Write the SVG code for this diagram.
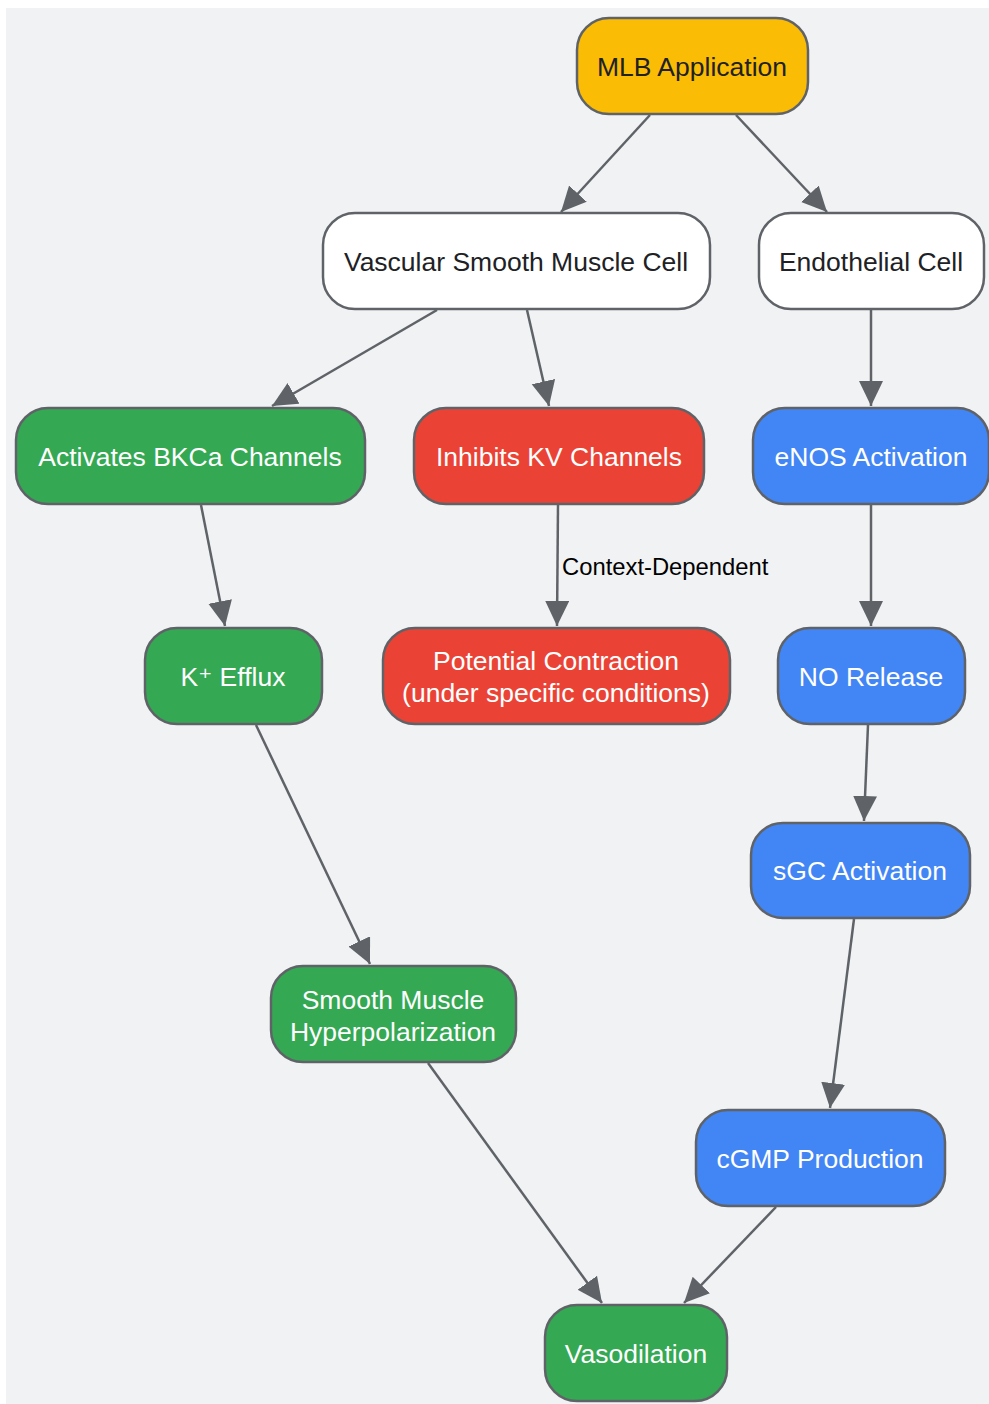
<svg xmlns="http://www.w3.org/2000/svg" width="989" height="1404" viewBox="0 0 989 1404">
<style>
.n rect{stroke:#5f6368;stroke-width:2.5}
.n text{font-family:"Liberation Sans",Arial,sans-serif;font-size:26.5px;text-anchor:middle;dominant-baseline:central}
.w rect{fill:#ffffff}.w text{fill:#202124}
.y rect{fill:#fbbc05}.y text{fill:#202124}
.g rect{fill:#34a853}.g text{fill:#ffffff}
.r rect{fill:#ea4335}.r text{fill:#ffffff}
.b rect{fill:#4285f4}.b text{fill:#ffffff}
#edges line{stroke:#5f6368;stroke-width:2.5;marker-end:url(#ah)}
.lbl{font-family:"Liberation Sans",Arial,sans-serif;font-size:23.8px;fill:#000000}
.sup{font-family:"DejaVu Sans",sans-serif}
</style>
<defs>
<marker id="ah" markerUnits="userSpaceOnUse" markerWidth="28" markerHeight="26" refX="25" refY="12" orient="auto">
<path d="M0,0 L25,12 L0,24 z" fill="#5f6368"/>
</marker>
</defs>
<rect x="6" y="8" width="983" height="1396" fill="#f1f2f4"/>
<g id="edges">
<line x1="650" y1="115" x2="561" y2="212"/>
<line x1="736" y1="115" x2="827" y2="212"/>
<line x1="437" y1="310" x2="272" y2="406"/>
<line x1="527" y1="310" x2="549" y2="406"/>
<line x1="871" y1="310" x2="871" y2="406"/>
<line x1="201" y1="505" x2="225" y2="626"/>
<line x1="558" y1="505" x2="557" y2="626"/>
<line x1="871" y1="505" x2="871" y2="626"/>
<line x1="256" y1="725" x2="370" y2="964"/>
<line x1="868" y1="725" x2="864" y2="821"/>
<line x1="428" y1="1063" x2="602" y2="1303"/>
<line x1="854" y1="919" x2="830" y2="1108"/>
<line x1="776" y1="1207" x2="684" y2="1303"/>
<text class="lbl" x="562" y="575">Context-Dependent</text>
</g>
<g id="mlb" class="n y"><rect x="577" y="18" width="231" height="96" rx="32"/><text x="692" y="67">MLB Application</text></g>
<g id="vsmc" class="n w"><rect x="323" y="213" width="387" height="96" rx="32"/><text x="516" y="262">Vascular Smooth Muscle Cell</text></g>
<g id="endo" class="n w"><rect x="759" y="213" width="225" height="96" rx="32"/><text x="871" y="262">Endothelial Cell</text></g>
<g id="bkca" class="n g"><rect x="16" y="408" width="349" height="96" rx="32"/><text x="190" y="457">Activates BKCa Channels</text></g>
<g id="kv" class="n r"><rect x="414" y="408" width="290" height="96" rx="32"/><text x="559" y="457">Inhibits KV Channels</text></g>
<g id="enos" class="n b"><rect x="753" y="408" width="236" height="96" rx="32"/><text x="871" y="457">eNOS Activation</text></g>
<g id="kefflux" class="n g"><rect x="145" y="628" width="177" height="96" rx="32"/><text x="233" y="677">K<tspan class="sup">⁺</tspan> Efflux</text></g>
<g id="contraction" class="n r"><rect x="383" y="628" width="347" height="96" rx="32"/><text x="556" y="661">Potential Contraction</text><text x="556" y="693">(under specific conditions)</text></g>
<g id="norelease" class="n b"><rect x="778" y="628" width="187" height="96" rx="32"/><text x="871" y="677">NO Release</text></g>
<g id="sgc" class="n b"><rect x="751" y="823" width="219" height="95" rx="32"/><text x="860" y="871">sGC Activation</text></g>
<g id="hyper" class="n g"><rect x="271" y="966" width="245" height="96" rx="32"/><text x="393" y="1000">Smooth Muscle</text><text x="393" y="1032">Hyperpolarization</text></g>
<g id="cgmp" class="n b"><rect x="696" y="1110" width="249" height="96" rx="32"/><text x="820" y="1159">cGMP Production</text></g>
<g id="vaso" class="n g"><rect x="545" y="1305" width="182" height="96" rx="32"/><text x="636" y="1354">Vasodilation</text></g>
</svg>
